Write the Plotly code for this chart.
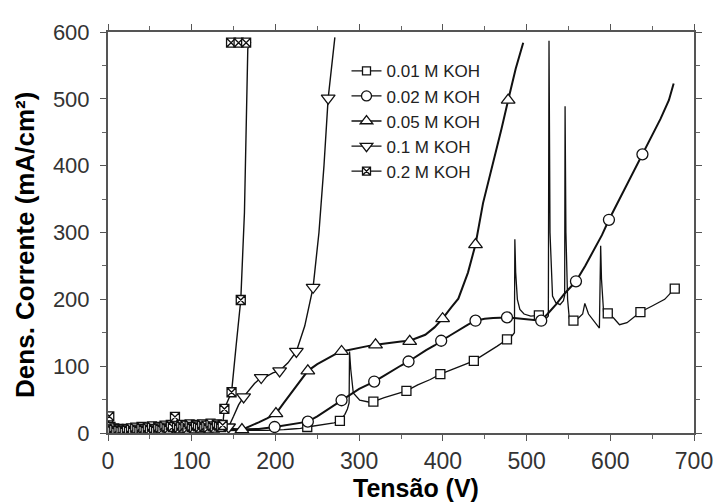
import plotly.graph_objects as go

# ---------------- data ----------------
# 0.01 M KOH
v01_line = [0, 20, 45, 70, 100, 130, 160, 190, 200, 210, 220, 230, 238, 250, 260, 270, 277, 283, 286, 288, 288.5,
            290, 293, 300.7, 312.5, 317, 330, 340, 356.5, 370, 385, 397, 410, 425, 437, 450, 465, 476.6, 483,
            485.5, 486, 487, 489, 492, 497, 505, 514.7, 520, 524, 526, 526.8, 528, 531, 535, 540, 544, 545.5, 546,
            547, 549, 551, 556, 562, 567, 569.6, 574, 580, 585, 587, 588.5, 589.5, 592, 597, 604, 611, 620,
            636, 650, 665, 677]
i01_line = [3, 4, 3, 4, 3, 4, 4, 4, 4, 5, 6, 7, 9, 11, 13, 15, 18, 28, 36, 45, 122,
            95, 60, 49, 46, 47, 53, 57, 63, 72, 80, 88, 95, 102, 108, 118, 130, 140, 146,
            150, 290, 240, 200, 185, 178, 175, 176, 174, 172, 175, 587, 300, 205, 195, 192, 198, 206, 489,
            300, 200, 172, 168, 172, 178, 194, 178, 168, 160, 157, 280, 230, 181, 179, 172, 162, 165,
            181, 190, 200, 216]
v01_mark = [238, 277, 317, 356.5, 397, 437, 476.6, 514.7, 556, 597, 636, 677]
i01_mark = [9, 18, 47, 63, 88, 108, 140, 176, 168, 179, 181, 216]

# 0.02 M KOH
v02_line = [0, 30, 60, 90, 120, 150, 180, 199, 210, 220, 230, 238.7, 250, 260, 270, 279, 290, 300, 310, 318,
            330, 340, 350, 359, 370, 380, 390, 398, 410, 420, 430, 439, 450, 460, 470, 476.6, 485, 495, 505,
            517.5, 525, 535, 545, 559, 570, 580, 590, 598.4, 610, 620, 630, 638.4, 650, 660, 670, 675.7]
i02_line = [4, 5, 4, 5, 4, 5, 6, 9, 11, 13, 15, 17, 25, 33, 41, 49, 58, 66, 72, 77,
            86, 94, 101, 107, 116, 124, 131, 138, 147, 155, 162, 168, 171, 172, 173, 173, 172, 171, 170,
            168, 178, 192, 208, 227, 250, 272, 296, 319, 347, 372, 396, 417, 445, 470, 498, 523]
v02_mark = [199, 238.7, 279, 318, 359, 398, 439, 476.6, 517.5, 559, 598.4, 638.4]
i02_mark = [9, 17, 49, 77, 107, 138, 168, 173, 168, 227, 319, 417]

# 0.05 M KOH
v05_line = [0, 30, 60, 90, 120, 150, 160, 170, 180, 190, 200.6, 210, 220, 230, 238.7, 250, 260, 270, 279, 290,
            300, 310, 319.6, 330, 340, 350, 360.4, 370, 379, 390, 399.7, 410, 418.5, 430, 439, 448, 462,
            470, 478, 487, 496]
i05_line = [5, 6, 5, 6, 5, 6, 5, 10, 16, 22, 29, 45, 62, 80, 93, 103, 110, 117, 122, 125,
            128, 130, 132, 134, 136, 137, 138, 143, 147, 158, 171, 188, 201, 240, 282, 344, 413,
            455, 498, 545, 584]
v05_mark = [160, 200.6, 238.7, 279, 319.6, 360.4, 399.7, 439, 478]
i05_mark = [5, 29, 93, 122, 132, 137, 171, 282, 498]

# 0.1 M KOH
v1_line = [0, 25, 50, 75, 100, 125, 140, 144, 150, 156, 162, 168, 175, 183, 190, 197, 205, 215, 225, 235, 245,
           252, 258, 263, 267, 271]
i1_line = [6, 7, 6, 8, 7, 8, 8, 9, 25, 42, 54, 64, 74, 83, 85, 90, 93, 105, 122, 160, 218,
           300, 400, 501, 550, 592]
v1_mark = [144, 162, 183, 205, 225, 245, 263]
i1_mark = [9, 54, 83, 93, 122, 218, 501]

# 0.2 M KOH (dense, noisy start near zero)
v2_low = [0, 1.5, 3, 5, 7.5, 10, 12.5, 15, 17.5, 20, 22.5, 25, 27.5, 30, 32.5, 35, 37.5, 40, 42.5, 45,
          47.5, 50, 52.5, 55, 57.5, 60, 62.5, 65, 67.5, 70, 72.5, 75, 77.5, 80, 82.5, 85, 87.5, 90, 92.5,
          95, 97.5, 100, 102.5, 105, 107.5, 110, 112.5, 115, 117.5, 120, 122.5, 125, 127.5, 130, 132.5,
          135, 137]
i2_low = [18, 25, 9, 4, 7, 3, 6, 4, 5, 3, 6, 4, 7, 3, 8, 5, 4, 9, 6, 4, 8, 5, 10, 6, 4, 9, 7, 5, 11,
          8, 6, 12, 9, 24, 10, 7, 12, 8, 11, 6, 13, 9, 7, 12, 10, 8, 13, 9, 11, 7, 14, 10, 8, 13, 11, 9, 12]
v2_rise = [139, 143, 147.6, 153, 158.6, 163, 167, 170, 165, 160, 156, 152, 147]
i2_rise = [36, 48, 61, 130, 199, 330, 575, 584, 584, 584, 584, 584, 584]
v2_mark_rise = [139, 147.6, 158.6, 147, 156, 165]
i2_mark_rise = [36, 61, 199, 584, 584, 584]

v2_line = v2_low + v2_rise
i2_line = i2_low + i2_rise
v2_mark = v2_low + v2_mark_rise
i2_mark = i2_low + i2_mark_rise

series_names = ["0.01 M KOH", "0.02 M KOH", "0.05 M KOH", "0.1 M KOH", "0.2 M KOH"]
x_ticks = [0, 100, 200, 300, 400, 500, 600, 700]
y_ticks = [0, 100, 200, 300, 400, 500, 600]

# ---------------- figure ----------------
series = [
    (v01_line, i01_line, v01_mark, i01_mark, "square", 9, 1.3),
    (v02_line, i02_line, v02_mark, i02_mark, "circle", 11, 2.0),
    (v05_line, i05_line, v05_mark, i05_mark, "triangle-up", 12, 2.0),
    (v1_line, i1_line, v1_mark, i1_mark, "triangle-down", 12, 1.4),
    (v2_line, i2_line, v2_mark, i2_mark, "square-x", 9, 1.4),
]

fig = go.Figure()
for name, (vl, il, vm, im, sym, size, lw) in zip(series_names, series):
    fig.add_trace(go.Scatter(x=vl, y=il, mode="lines", line=dict(color="#111", width=lw),
                             showlegend=False, hoverinfo="skip"))
for name, (vl, il, vm, im, sym, size, lw) in zip(series_names, series):
    fig.add_trace(go.Scatter(x=vm, y=im, mode="markers", showlegend=False,
                             marker=dict(symbol=sym, size=size, color="white",
                                         line=dict(color="#111", width=1.3))))
for name, (vl, il, vm, im, sym, size, lw) in zip(series_names, series):
    fig.add_trace(go.Scatter(x=[None], y=[None], mode="lines+markers", name=name,
                             line=dict(color="#111", width=1.3),
                             marker=dict(symbol=sym, size=size - 1, color="white",
                                         line=dict(color="#111", width=1.3))))

axis_common = dict(showgrid=False, zeroline=False, showline=True, linecolor="#555", linewidth=2,
                   mirror="ticks", ticks="outside", ticklen=6, tickwidth=1.2, tickcolor="#555",
                   minor=dict(ticks="outside", ticklen=4, tickwidth=1, tickcolor="#666", dtick=50))

fig.update_xaxes(range=[0, 700], tickvals=x_ticks, ticktext=[str(t) for t in x_ticks],
                 tickfont=dict(family="Liberation Sans, Arial", size=23, color="#333"),
                 **axis_common)
fig.update_yaxes(range=[0, 600], tickvals=y_ticks, ticktext=[str(t) for t in y_ticks],
                 tickfont=dict(family="Liberation Sans, Arial", size=22, color="#333"),
                 ticklabelstandoff=6, **axis_common)

# page body has an 8px margin: figure sits at (8, 8) in the window
PL, PT, PW, PH = 100, 18, 594, 407   # plot area in figure pixels

fig.add_annotation(text="<b>Tensão (V)</b>", xref="paper", yref="paper",
                   x=(412 - PL) / PW, y=(PT + PH - 481) / PH, xanchor="center", yanchor="middle",
                   showarrow=False,
                   font=dict(family="Liberation Sans, Arial", size=25, color="#000"))
fig.add_annotation(text="<b>Dens. Corrente (mA/cm²)</b>", xref="paper", yref="paper",
                   x=(16 - PL) / PW, y=(PT + PH - 234) / PH, xanchor="center", yanchor="middle",
                   showarrow=False, textangle=-90,
                   font=dict(family="Liberation Sans, Arial", size=26, color="#000"))

fig.update_layout(
    width=717, height=496,
    margin=dict(l=PL, r=717 - PL - PW, t=PT, b=496 - PT - PH),
    paper_bgcolor="white", plot_bgcolor="white",
    legend=dict(x=0.407, y=0.947, xanchor="left", yanchor="top", bgcolor="rgba(0,0,0,0)",
                font=dict(family="Liberation Sans, Arial", size=17, color="#222"),
                itemsizing="trace", tracegroupgap=0),
)

fig.write_html("out.html")
